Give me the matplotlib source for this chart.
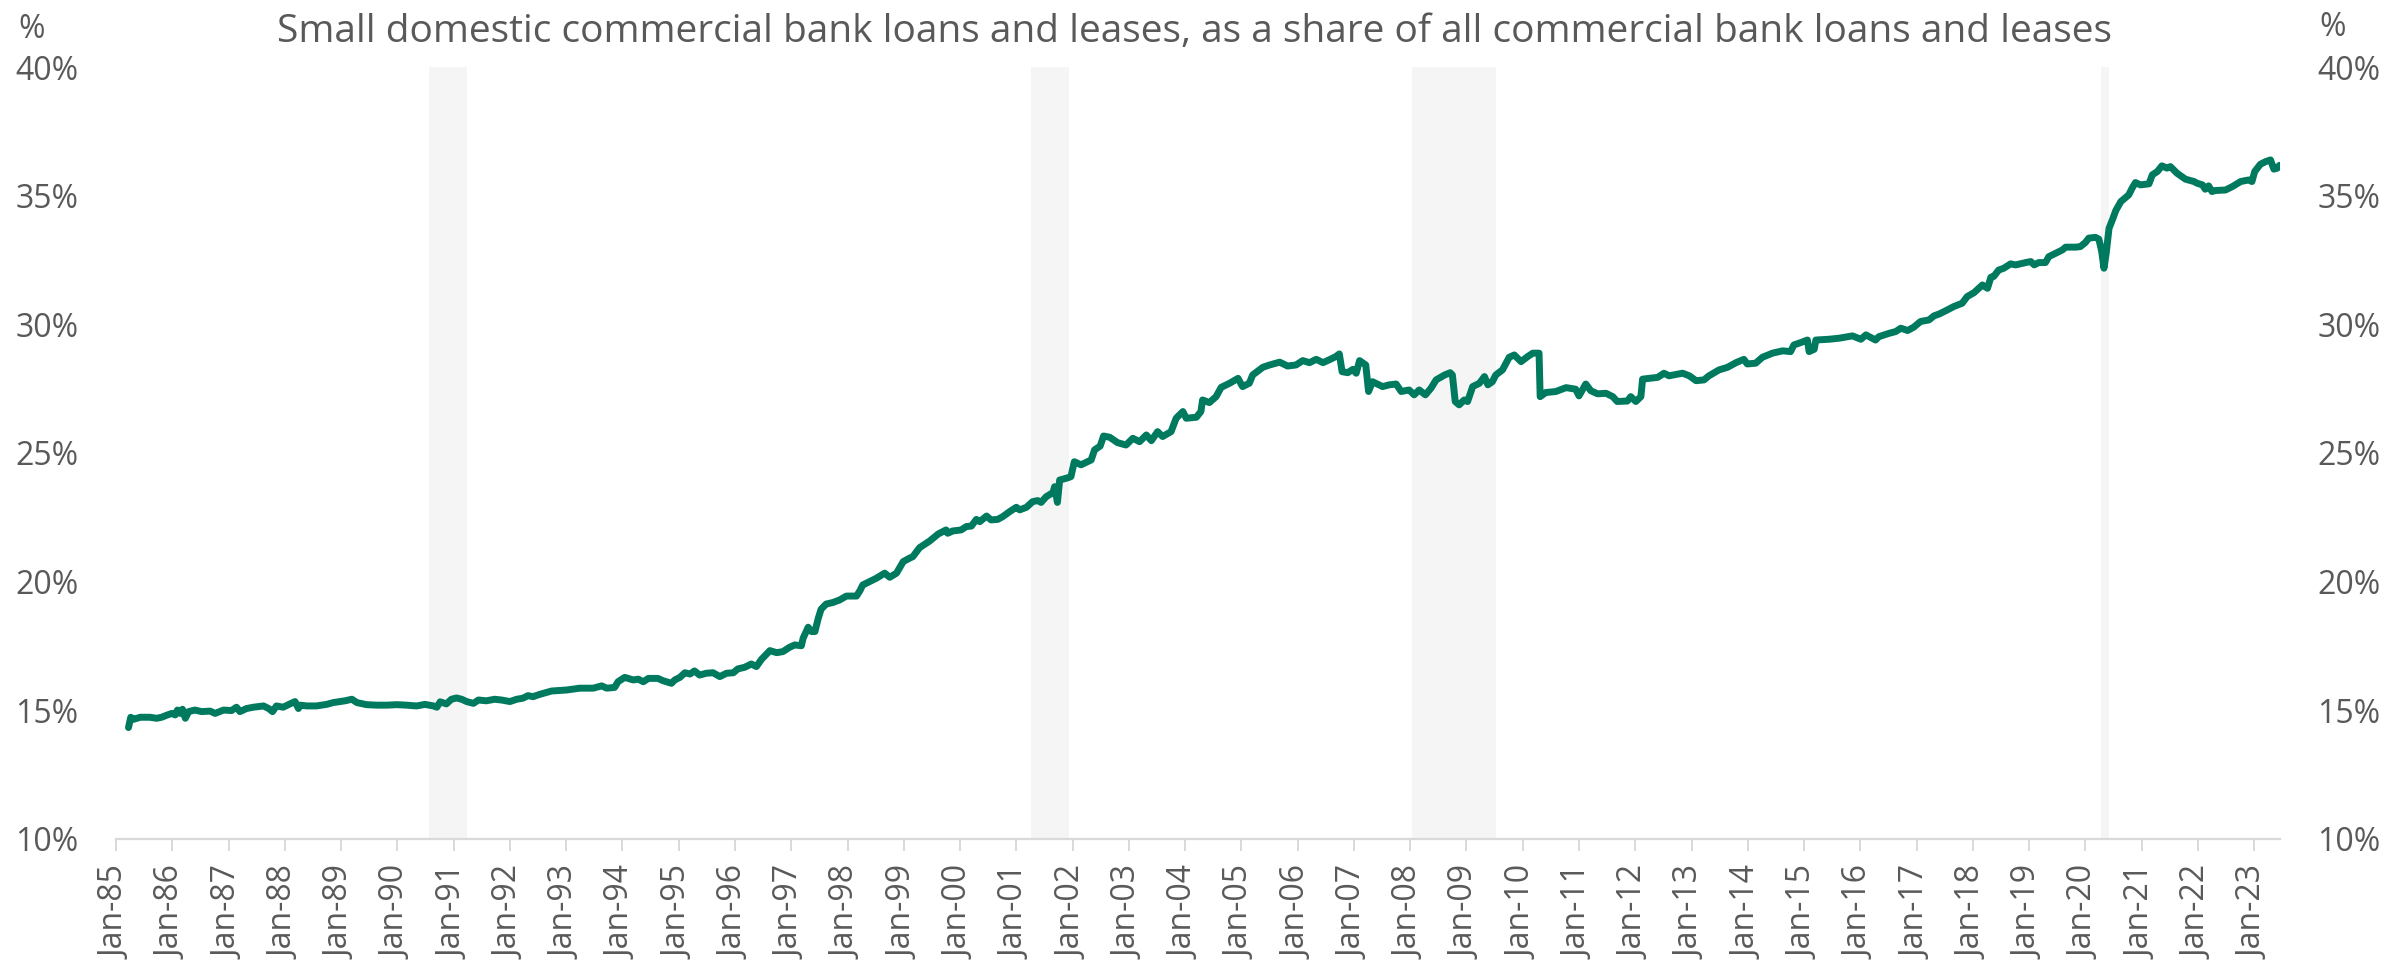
import numpy as np
import matplotlib.pyplot as plt
from matplotlib.ticker import FuncFormatter

plt.rcParams['font.family'] = ['Open Sans', 'DejaVu Sans']

# small domestic banks' share of total commercial bank loans & leases (%)
year = [
    1985.22, 1985.26, 1985.31, 1985.43, 1985.60, 1985.72, 1985.81, 1985.90, 1985.99,
    1986.05, 1986.09, 1986.14, 1986.18, 1986.23, 1986.29, 1986.40, 1986.52, 1986.67,
    1986.76, 1986.91, 1987.05, 1987.14, 1987.20, 1987.32, 1987.44, 1987.62, 1987.71,
    1987.78, 1987.85, 1987.97, 1988.09, 1988.18, 1988.24, 1988.27, 1988.39, 1988.56,
    1988.74, 1988.86, 1989.07, 1989.19, 1989.28, 1989.45, 1989.63, 1989.81, 1989.99,
    1990.16, 1990.34, 1990.49, 1990.64, 1990.70, 1990.76, 1990.87, 1990.96, 1991.05,
    1991.14, 1991.23, 1991.35, 1991.44, 1991.58, 1991.73, 1991.85, 1992.00, 1992.12,
    1992.23, 1992.32, 1992.41, 1992.53, 1992.74, 1993.01,
    1993.24, 1993.48, 1993.63, 1993.72, 1993.86, 1993.92, 1994.04, 1994.19, 1994.28,
    1994.37, 1994.46, 1994.63, 1994.72, 1994.87, 1994.93, 1995.02, 1995.11, 1995.20,
    1995.28, 1995.37, 1995.49, 1995.61, 1995.73, 1995.85, 1995.97, 1996.05, 1996.17,
    1996.29, 1996.38, 1996.47, 1996.62, 1996.74, 1996.85, 1996.97, 1997.06, 1997.18,
    1997.21, 1997.30, 1997.36, 1997.42, 1997.48, 1997.53, 1997.62, 1997.74, 1997.86,
    1997.98, 1998.16, 1998.22, 1998.27, 1998.39, 1998.51, 1998.66, 1998.75, 1998.87,
    1998.99, 1999.10, 1999.16, 1999.28, 1999.46, 1999.61, 1999.75, 1999.78, 1999.87,
    2000.02, 2000.11, 2000.20, 2000.29, 2000.35, 2000.47, 2000.55, 2000.67, 2000.76,
    2000.88, 2001.00, 2001.06, 2001.18, 2001.29, 2001.38, 2001.44, 2001.53, 2001.65,
    2001.68, 2001.73, 2001.77, 2001.89, 2001.97,
    2002.03, 2002.15, 2002.33, 2002.39, 2002.49, 2002.55, 2002.66, 2002.80, 2002.95,
    2003.07, 2003.19, 2003.31, 2003.40, 2003.51, 2003.60, 2003.75, 2003.84, 2003.96,
    2004.02, 2004.20, 2004.28, 2004.31, 2004.43, 2004.55, 2004.64, 2004.79, 2004.94,
    2005.02, 2005.14, 2005.20, 2005.38, 2005.50, 2005.68, 2005.82, 2005.97, 2006.09,
    2006.21, 2006.33, 2006.45, 2006.56, 2006.68, 2006.74, 2006.79, 2006.89, 2006.98,
    2007.04, 2007.10, 2007.21, 2007.26, 2007.33, 2007.51, 2007.63, 2007.75, 2007.84,
    2007.98, 2008.07, 2008.16, 2008.27, 2008.37, 2008.46, 2008.61, 2008.71, 2008.75,
    2008.80, 2008.87, 2008.96, 2009.02, 2009.11, 2009.23, 2009.32, 2009.38, 2009.46,
    2009.52, 2009.64, 2009.76, 2009.85, 2009.97,
    2010.09, 2010.18, 2010.29, 2010.31, 2010.41, 2010.59, 2010.77, 2010.94, 2011.00,
    2011.12, 2011.21, 2011.33, 2011.48, 2011.60, 2011.68, 2011.86, 2011.92, 2012.01,
    2012.10, 2012.13, 2012.25, 2012.40, 2012.51, 2012.60, 2012.84, 2012.96, 2013.08,
    2013.22, 2013.31, 2013.49, 2013.64, 2013.79, 2013.93, 2013.99, 2014.14, 2014.26,
    2014.44, 2014.62, 2014.76, 2014.82, 2014.94, 2015.06, 2015.09, 2015.18, 2015.21,
    2015.44, 2015.62, 2015.86, 2016.01, 2016.10, 2016.27, 2016.33, 2016.51, 2016.63,
    2016.72, 2016.84, 2016.95, 2017.07, 2017.22, 2017.31, 2017.40, 2017.52, 2017.66,
    2017.81, 2017.90, 2018.02, 2018.17, 2018.26, 2018.32, 2018.37, 2018.46,
    2018.55, 2018.67, 2018.76, 2018.94, 2019.03, 2019.09, 2019.17, 2019.29, 2019.35,
    2019.47, 2019.59, 2019.65, 2019.83, 2019.91, 2020.00, 2020.06, 2020.18, 2020.24,
    2020.29, 2020.33, 2020.37, 2020.42, 2020.48, 2020.54, 2020.63, 2020.77, 2020.83,
    2020.89, 2020.98, 2021.13, 2021.19, 2021.28, 2021.36, 2021.45, 2021.51, 2021.63,
    2021.78, 2021.93, 2021.99, 2022.08, 2022.13, 2022.19, 2022.25, 2022.31, 2022.49,
    2022.61, 2022.76, 2022.90, 2022.96, 2023.01, 2023.11, 2023.20, 2023.29, 2023.35,
    2023.41, 2023.45,
]
share = [
    14.33, 14.73, 14.65, 14.73, 14.73, 14.69, 14.73, 14.81, 14.88,
    14.82, 15.01, 14.88, 15.04, 14.69, 14.95, 15.01, 14.95, 14.97,
    14.88, 15.01, 14.99, 15.12, 14.95, 15.07, 15.12, 15.17, 15.07,
    14.95, 15.17, 15.12, 15.25, 15.34, 15.07, 15.20, 15.17, 15.17,
    15.23, 15.30, 15.37, 15.43, 15.30, 15.22, 15.20, 15.20, 15.22,
    15.20, 15.17, 15.23, 15.17, 15.12, 15.33, 15.25, 15.43, 15.48,
    15.43, 15.34, 15.27, 15.40, 15.37, 15.43, 15.40, 15.34, 15.43,
    15.47, 15.57, 15.53, 15.62, 15.75, 15.79,
    15.86, 15.86, 15.95, 15.86, 15.89, 16.11, 16.28, 16.18, 16.21,
    16.11, 16.24, 16.24, 16.15, 16.05, 16.18, 16.28, 16.46, 16.41,
    16.53, 16.37, 16.44, 16.46, 16.31, 16.44, 16.46, 16.61, 16.67,
    16.80, 16.70, 16.98, 17.32, 17.24, 17.28, 17.45, 17.54, 17.51,
    17.80, 18.23, 18.06, 18.06, 18.58, 18.93, 19.13, 19.19, 19.29,
    19.44, 19.44, 19.65, 19.87, 20.00, 20.13, 20.33, 20.17, 20.33,
    20.78, 20.91, 20.97, 21.32, 21.58, 21.85, 22.01, 21.88, 21.97,
    22.01, 22.14, 22.16, 22.42, 22.33, 22.55, 22.40, 22.42, 22.53,
    22.72, 22.89, 22.79, 22.89, 23.11, 23.15, 23.08, 23.30, 23.46,
    23.69, 23.08, 23.95, 24.02, 24.08,
    24.66, 24.54, 24.73, 25.12, 25.27, 25.66, 25.61, 25.40, 25.31,
    25.57, 25.44, 25.70, 25.48, 25.83, 25.64, 25.83, 26.35, 26.61,
    26.35, 26.39, 26.61, 27.06, 26.96, 27.19, 27.55, 27.71, 27.90,
    27.58, 27.71, 28.03, 28.33, 28.42, 28.53, 28.38, 28.42, 28.59,
    28.51, 28.64, 28.51, 28.62, 28.75, 28.85, 28.16, 28.12, 28.25,
    28.10, 28.59, 28.42, 27.39, 27.77, 27.58, 27.65, 27.68, 27.39,
    27.45, 27.26, 27.45, 27.26, 27.52, 27.84, 28.03, 28.12, 28.03,
    27.00, 26.87, 27.06, 27.00, 27.58, 27.71, 27.97, 27.65, 27.77,
    28.03, 28.23, 28.72, 28.81, 28.55,
    28.75, 28.88, 28.88, 27.19, 27.35, 27.39, 27.54, 27.48, 27.22,
    27.68, 27.42, 27.30, 27.32, 27.19, 27.00, 27.02, 27.19, 27.00,
    27.19, 27.87, 27.90, 27.94, 28.10, 28.00, 28.10, 28.00, 27.81,
    27.84, 28.00, 28.23, 28.33, 28.51, 28.64, 28.46, 28.49, 28.72,
    28.88, 28.97, 28.94, 29.20, 29.29, 29.39, 28.94, 29.03, 29.39,
    29.42, 29.46, 29.55, 29.42, 29.59, 29.39, 29.52, 29.65, 29.72,
    29.85, 29.76, 29.89, 30.11, 30.17, 30.33, 30.40, 30.53, 30.69,
    30.82, 31.08, 31.23, 31.53, 31.40, 31.83, 31.86, 32.11,
    32.18, 32.35, 32.31, 32.40, 32.44, 32.31, 32.40, 32.40, 32.63,
    32.76, 32.89, 33.00, 33.00, 33.02, 33.18, 33.35, 33.38, 33.31,
    32.83, 32.18, 32.76, 33.73, 34.06, 34.42, 34.77, 35.03, 35.29,
    35.51, 35.42, 35.46, 35.81, 35.94, 36.16, 36.07, 36.13, 35.87,
    35.64, 35.55, 35.48, 35.42, 35.25, 35.38, 35.16, 35.20, 35.22,
    35.35, 35.55, 35.61, 35.55, 35.94, 36.22, 36.32, 36.39, 36.03,
    36.07, 36.18,
]

# recession periods (start, end) as decimal years
rec_start = [1990.56, 2001.26, 2008.04, 2020.27]
rec_end = [1991.23, 2001.93, 2009.53, 2020.42]

tick_years = list(range(1985, 2024))
tick_labels = ['Jan-%02d' % (y % 100) for y in tick_years]

txt = '#595959'
axis_grey = '#d9d9d9'

fig = plt.figure(figsize=(23.89, 9.67), dpi=100)
ax = fig.add_axes([0.0486, 0.1324, 0.9058, 0.7983])

for s, e in zip(rec_start, rec_end):
    ax.axvspan(s, e, color='#f5f5f5', lw=0, zorder=0)

ax.plot(year, share, color='#007a5e', lw=5, solid_capstyle='round',
        solid_joinstyle='round', zorder=3)

ax.set_xlim(1985.0, 2023.46)
ax.set_ylim(10, 40)
ax.set_yticks(np.arange(10, 41, 5))
ax.yaxis.set_major_formatter(FuncFormatter(lambda v, p: '%d%%' % v))
ax.set_xticks(tick_years)
ax.set_xticklabels(tick_labels, rotation=90)

for side in ['top', 'left', 'right']:
    ax.spines[side].set_visible(False)
ax.spines['bottom'].set_color(axis_grey)
ax.spines['bottom'].set_linewidth(1.6)

ax.tick_params(axis='x', colors=axis_grey, labelcolor=txt, labelsize=23,
               length=8.5, width=1.4, pad=11)
ax.tick_params(axis='y', length=0, labelcolor=txt, labelsize=23, pad=27,
               labelright=True, right=False)

fig.text(0.5, 0.967, 'Small domestic commercial bank loans and leases, as a share of all '
         'commercial bank loans and leases', ha='center', va='center',
         fontsize=28, color=txt)
fig.text(0.0134, 0.970, '%', ha='center', va='center', fontsize=23, color=txt)
fig.text(0.9765, 0.972, '%', ha='center', va='center', fontsize=23, color=txt)

fig.savefig('out.png', dpi=100)
